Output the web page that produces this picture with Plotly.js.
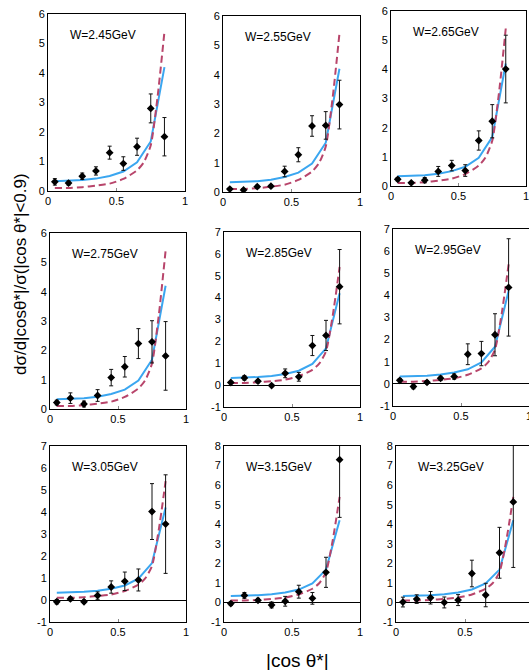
<!DOCTYPE html>
<html>
<head>
<meta charset="utf-8">
<script src="https://cdn.plot.ly/plotly-3.0.1.min.js"></script>
<style>
html,body{margin:0;padding:0;overflow:hidden;background:#fff;}
#chart{width:540px;height:670px;}
</style>
</head>
<body>
<div id="chart"></div>
<script>
// ---- data ----
const xCenters = [0.05,0.15,0.25,0.35,0.45,0.55,0.65,0.75,0.85];
const blueModel = [0.33,0.34,0.37,0.42,0.51,0.66,0.97,1.68,4.2];
const dashX = [0.05,0.15,0.25,0.35,0.45,0.55,0.65,0.7,0.75,0.8,0.85];
const dashModel = [0.1,0.1,0.13,0.18,0.25,0.41,0.7,0.98,1.55,3.2,5.4];

const panelTitles = ["W=2.45GeV","W=2.55GeV","W=2.65GeV","W=2.75GeV","W=2.85GeV","W=2.95GeV","W=3.05GeV","W=3.15GeV","W=3.25GeV"];

const y245 = [0.31,0.27,0.50,0.68,1.30,0.93,1.50,2.80,1.84];
const e245 = [0.11,0.07,0.11,0.14,0.22,0.23,0.29,0.49,0.65];
const y255 = [0.10,0.07,0.18,0.20,0.70,1.27,2.25,2.27,2.98];
const e255 = [0.04,0.03,0.05,0.05,0.18,0.24,0.35,0.47,0.83];
const y265 = [0.23,0.11,0.20,0.50,0.70,0.53,1.56,2.22,4.01];
const e265 = [0.06,0.04,0.09,0.17,0.18,0.20,0.33,0.57,1.16];
const y275 = [0.22,0.37,0.17,0.46,1.07,1.44,2.23,2.29,1.81];
const e275 = [0.08,0.18,0.10,0.20,0.28,0.35,0.51,0.72,1.17];
const y285 = [0.12,0.33,0.18,-0.02,0.54,0.38,1.81,2.27,4.50];
const e285 = [0.05,0.10,0.07,0.05,0.20,0.20,0.46,0.69,1.70];
const y295 = [0.16,-0.12,0.07,0.25,0.33,1.34,1.37,2.22,4.36];
const e295 = [0.08,0.10,0.07,0.10,0.12,0.47,0.55,0.95,2.20];
const y305 = [-0.08,0.05,-0.08,0.20,0.59,0.85,0.91,4.02,3.45];
const e305 = [0.10,0.08,0.08,0.17,0.28,0.42,0.50,1.27,2.24];
const y315 = [-0.06,0.36,0.11,-0.13,0.06,0.55,0.21,1.54,7.30];
const e315 = [0.10,0.15,0.10,0.15,0.25,0.33,0.30,0.77,2.95];
const y325 = [0.02,0.17,0.24,0.00,0.12,1.48,0.38,2.54,5.14];
const e325 = [0.25,0.22,0.32,0.28,0.28,0.68,0.60,1.30,3.35];

const panelY = [y245,y255,y265,y275,y285,y295,y305,y315,y325];
const panelE = [e245,e255,e265,e275,e285,e295,e305,e315,e325];

const yTicks6 = [0,1,2,3,4,5,6];
const yTicks7 = [-1,0,1,2,3,4,5,6,7];
const yTicks8 = [-1,0,1,2,3,4,5,6,7,8];
const xTickVals = [0,0.5,1];
const xTickText = ["0","0.5","1"];

const yTitle = "dσ/d|cosθ*|/σ(|cos θ*|<0.9)";
const xTitle = "|cos θ*|";

// ---- layout geometry (pixels) ----
const W = 540, H = 670;
const boxes = [
  [48,185,14,191],[223,360,16,192],[391,526,11,186],
  [50,186,233,409],[224,360,232,407],[393,529,229,406],
  [50,186,446,622],[224,360,446,622],[396,534,446,622]
];
const yTickSets = [yTicks6,yTicks6,yTicks6,yTicks6,yTicks7,yTicks7,yTicks7,yTicks8,yTicks8];

const FONT = "Liberation Sans, Arial, sans-serif";
const traces = [];
const layout = {
  width: W, height: H,
  margin: {l:0,r:0,t:0,b:0},
  paper_bgcolor: "#fff", plot_bgcolor: "#fff",
  showlegend: false,
  font: {family: FONT, color: "#000", size: 11},
  annotations: []
};

for (let i = 0; i < 9; i++) {
  const n = i === 0 ? "" : String(i + 1);
  const xa = "x" + n, ya = "y" + n;
  const b = boxes[i];
  const ticks = yTickSets[i];
  layout["xaxis" + n] = {
    domain: [b[0]/W, b[1]/W], anchor: ya,
    range: [0,1], tickmode: "array", tickvals: xTickVals, ticktext: xTickText,
    showgrid: false, zeroline: false, showline: true, mirror: true,
    linecolor: "#000", linewidth: 1, ticks: "inside", ticklen: 3, tickcolor: "#888",
    tickfont: {size: 11, family: FONT}, fixedrange: true
  };
  layout["yaxis" + n] = {
    domain: [1 - b[3]/H, 1 - b[2]/H], anchor: xa,
    range: [ticks[0], ticks[ticks.length-1]],
    tickmode: "array", tickvals: ticks, ticktext: ticks.map(String),
    showgrid: false, zeroline: true, zerolinecolor: "#000", zerolinewidth: 1,
    showline: true, mirror: true, linecolor: "#000", linewidth: 1,
    ticks: "", tickfont: {size: 11, family: FONT}, fixedrange: true
  };
  traces.push({
    x: xCenters, y: blueModel, xaxis: xa, yaxis: ya, type: "scatter", mode: "lines",
    line: {color: "#3aa6f0", width: 2}, hoverinfo: "skip"
  });
  traces.push({
    x: dashX, y: dashModel, xaxis: xa, yaxis: ya, type: "scatter", mode: "lines",
    line: {color: "#b8456b", width: 2, dash: "7px,4px", shape: "spline", smoothing: 0.6}, hoverinfo: "skip"
  });
  traces.push({
    x: xCenters, y: panelY[i], xaxis: xa, yaxis: ya, type: "scatter", mode: "markers",
    marker: {symbol: "diamond", size: 6, color: "#000"},
    error_y: {type: "data", array: panelE[i], visible: true, color: "#111", thickness: 1, width: 2}
  });
  layout.annotations.push({
    text: panelTitles[i], xref: "paper", yref: "paper",
    x: (b[0] + 20)/W, y: 1 - (b[2] + 21)/H, xanchor: "left", yanchor: "middle",
    showarrow: false, font: {size: 12, family: FONT, color: "#000"}
  });
}

layout.annotations.push({
  text: yTitle, xref: "paper", yref: "paper", x: 20/W, y: 1 - 274/H,
  xanchor: "center", yanchor: "middle", textangle: -90, showarrow: false,
  font: {size: 17, family: FONT, color: "#000"}
});
layout.annotations.push({
  text: xTitle, xref: "paper", yref: "paper", x: 297/W, y: 1 - 660/H,
  xanchor: "center", yanchor: "middle", showarrow: false,
  font: {size: 19, family: FONT, color: "#000"}
});

Plotly.newPlot("chart", traces, layout, {staticPlot: true, displayModeBar: false});
</script>
</body>
</html>
